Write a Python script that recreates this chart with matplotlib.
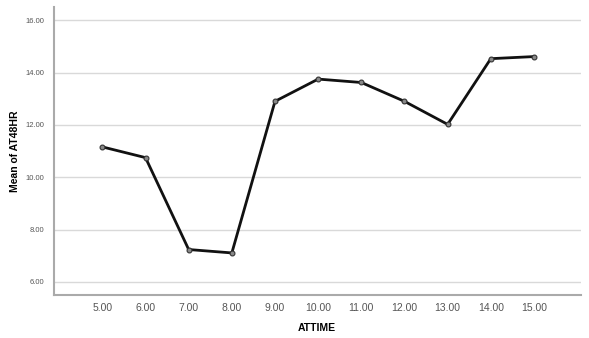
import matplotlib
matplotlib.use("Agg")
import matplotlib.pyplot as plt

plt.rcParams['font.family'] = ['Liberation Sans', 'DejaVu Sans']

attime = [5, 6, 7, 8, 9, 10, 11, 12, 13, 14, 15]
mean_at48hr = [11.16, 10.75, 7.24, 7.11, 12.90, 13.75, 13.62, 12.90, 12.02, 14.53, 14.61]
yticks = [6, 8, 10, 12, 14, 16]

fig = plt.figure(figsize=(5.89, 3.38), dpi=100)
ax = fig.add_axes([0.0917, 0.127, 0.894, 0.852])

for y in yticks:
    ax.axhline(y, color='#d9d9d9', lw=1.0, zorder=0)

ax.plot(attime, mean_at48hr, color='#111111', lw=2.0, marker='o', markersize=3.5,
        markerfacecolor='#888888', markeredgecolor='#333333', markeredgewidth=0.8, zorder=3)

ax.set_xlim(3.88, 16.08)
ax.set_ylim(5.5, 16.5)
ax.set_xticks(attime)
ax.set_xticklabels([f"{v:.2f}" for v in attime], fontsize=7.5, color='#555555')
ax.set_yticks(yticks)
ax.set_yticklabels([f"{v:.2f}" for v in yticks], fontsize=5.5, color='#555555')
ax.tick_params(axis='both', length=0)
ax.tick_params(axis='x', pad=6)
ax.tick_params(axis='y', pad=7)

for s in ['top', 'right']:
    ax.spines[s].set_visible(False)
for s in ['left', 'bottom']:
    ax.spines[s].set_color('#aaaaaa')
    ax.spines[s].set_linewidth(1.5)

ax.set_xlabel('ATTIME', fontsize=7.5, fontweight='bold', labelpad=7)
ax.set_ylabel('Mean of AT48HR', fontsize=7.5, fontweight='bold', labelpad=4)

fig.savefig('out.png', dpi=100)
